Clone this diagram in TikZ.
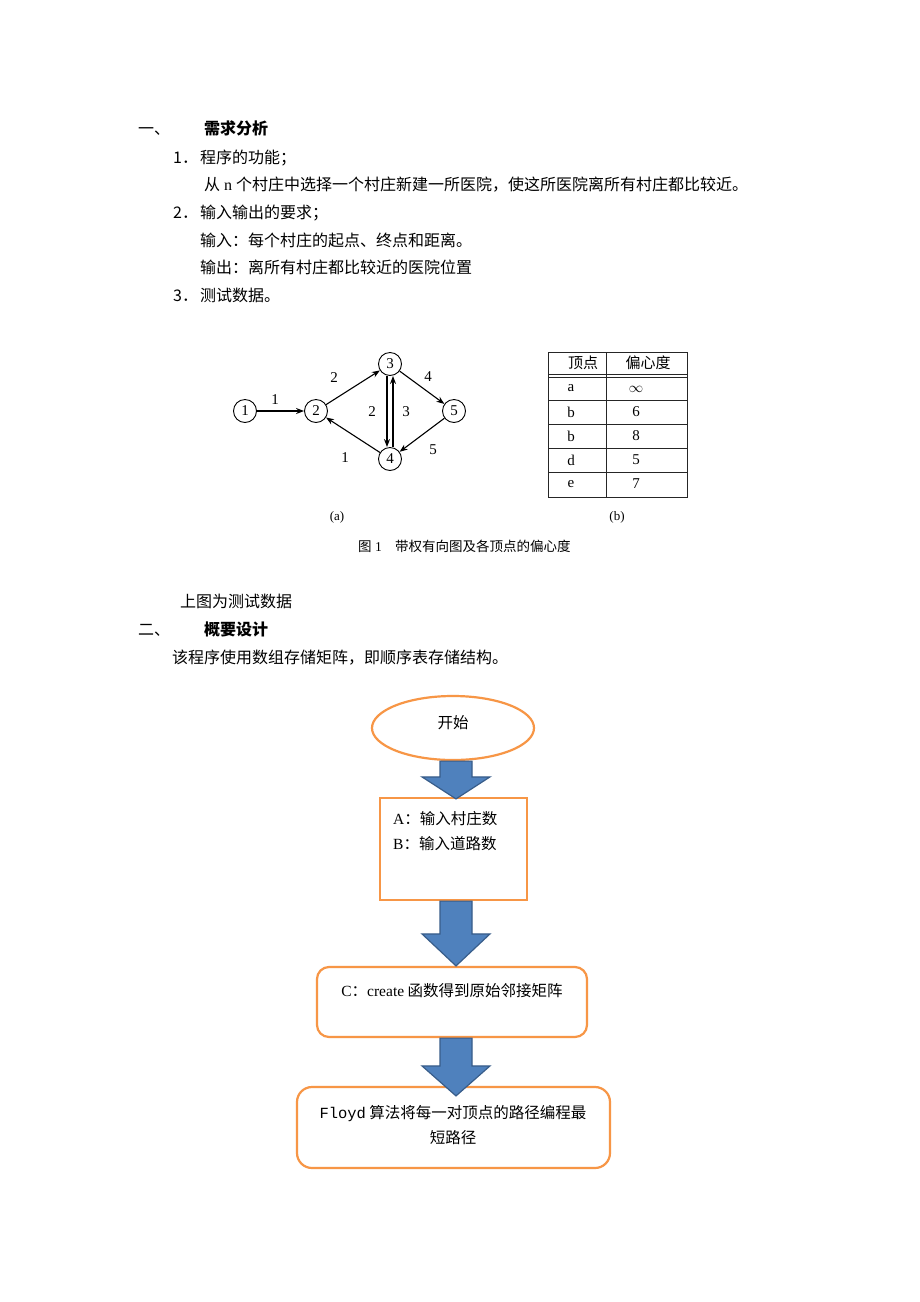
\documentclass[tikz,border=0pt]{standalone}
\usepackage{fontspec}
\setmainfont{Liberation Serif}
\newfontfamily\cjk{Noto Sans CJK SC}
\newfontfamily\monof{Liberation Mono}
\usetikzlibrary{arrows.meta,calc,shapes.geometric}
\definecolor{org}{HTML}{F79646}
\definecolor{bfill}{HTML}{4F81BD}
\definecolor{bdraw}{HTML}{385D8A}
\newcommand\blockarr[3]{\draw[barrow] let \p1=(#1), \p2=(#2) in
  (\x2-16pt,\y1) -- (\x2+16pt,\y1) -- (\x2+16pt,\y2+#3) -- (\x2+34pt,\y2+#3) -- (\x2,\y2) -- (\x2-34pt,\y2+#3) -- (\x2-16pt,\y2+#3) -- cycle;}
\begin{document}
\begin{tikzpicture}[x=1pt,y=-1pt,
  body/.style={anchor=base west, inner sep=0, font=\fontsize{16}{18}\selectfont\cjk},
  bodyb/.style={anchor=base west, inner sep=0, font=\fontsize{16}{18}\selectfont\cjk\bfseries},
  vx/.style={circle, draw, line width=0.9pt, minimum size=23pt, inner sep=0pt, font=\fontsize{15}{18}\selectfont},
  lbl/.style={inner sep=0pt, font=\fontsize{15}{18}\selectfont},
  edgearr/.style={-{Stealth[length=8pt,width=6pt]}, line width=1.1pt},
  tbl/.style={line width=1pt, draw=black!85},
  cell/.style={inner sep=0pt, font=\fontsize{15}{18}\selectfont},
  cellc/.style={inner sep=0pt, font=\fontsize{15}{18}\selectfont\cjk},
  captxt/.style={anchor=base west, inner sep=0pt, font=\fontsize{13.5}{16}\selectfont\cjk},
  flow/.style={draw=org, line width=2.2pt, fill=white, inner sep=0pt},
  barrow/.style={fill=bfill, draw=bdraw, line width=1.2pt, line join=miter},
  ftext/.style={inner sep=0pt, font=\fontsize{15.5}{18}\selectfont\cjk}]
\useasboundingbox[fill=white] (0,0) rectangle (920,1302);

% ---- section 1 text
\node[body] (h1a) at (138,134) {一、};
\node[bodyb] (h1b) at (204,134) {需求分析};
\node[body] (n1a) at (173,163) {1．};
\node[body] (n1b) at (200,163) {程序的功能；};
\node[body] (l1) at (204,190) {从{\rmfamily\ n\ }个村庄中选择一个村庄新建一所医院，使这所医院离所有村庄都比较近。};
\node[body] (n2a) at (173,218) {2．};
\node[body] (n2b) at (200,218) {输入输出的要求；};
\node[body] (l2) at (200,246) {输入：每个村庄的起点、终点和距离。};
\node[body] (l3) at (200,273) {输出：离所有村庄都比较近的医院位置};
\node[body] (n3a) at (173,301) {3．};
\node[body] (n3b) at (200,301) {测试数据。};

% ---- graph
\node[vx] (v1) at (245,411) {1};
\node[vx] (v2) at (316,411) {2};
\node[vx] (v3) at (390,364) {3};
\node[vx] (v4) at (390,459) {4};
\node[vx] (v5) at (454,411) {5};
\draw[edgearr] (v1) -- (v2);
\draw[edgearr] (v2) -- (v3);
\draw[edgearr] (v3) -- (v5);
\draw[edgearr] ([xshift=-3pt]v3.south) -- ([xshift=-3pt]v4.north);
\draw[edgearr] ([xshift=3pt]v4.north) -- ([xshift=3pt]v3.south);
\draw[edgearr] (v4) -- (v2);
\draw[edgearr] (v5) -- (v4);
\node[lbl] (e12) at (275,400) {1};
\node[lbl] (e23) at (334,378) {2};
\node[lbl] (e35) at (428,377) {4};
\node[lbl] (e34) at (372,412) {2};
\node[lbl] (e43) at (406,412) {3};
\node[lbl] (e42) at (345,458) {1};
\node[lbl] (e54) at (433,450) {5};

% ---- table
\draw[tbl] (548,352) rectangle (687,497);
\draw[tbl] (606,352) -- (606,497);
\draw[tbl] (548,374) -- (687,374);
\draw[tbl] (548,377) -- (687,377);
\foreach \yy in {400,424,448,472} \draw[tbl] (548,\yy) -- (687,\yy);
\node[cellc] (th1) at (583,363) {顶点};
\node[cellc] (th2) at (648,363) {偏心度};
\node[cell] (ta1) at (571,388) {a};
\node[cell] (ta2) at (636,389) {$\infty$};
\node[cell] (tb1) at (571,412) {b};
\node[cell] (tb2) at (636,412) {6};
\node[cell] (tc1) at (571,436) {b};
\node[cell] (tc2) at (636,436) {8};
\node[cell] (td1) at (571,460) {d};
\node[cell] (td2) at (636,460) {5};
\node[cell] (te1) at (571,484) {e};
\node[cell] (te2) at (636,484) {7};

\node[inner sep=0pt, font=\fontsize{13}{15}\selectfont] (capa) at (337,517) {(a)};
\node[inner sep=0pt, font=\fontsize{13}{15}\selectfont] (capb) at (617,517) {(b)};
\node[captxt] (cap1) at (358,551) {图{\rmfamily\ 1}};
\node[captxt] (cap2) at (395,551) {带权有向图及各顶点的偏心度};

% ---- section 2 text
\node[body] (p1) at (180,607) {上图为测试数据};
\node[body] (h2a) at (138,635) {二、};
\node[bodyb] (h2b) at (204,635) {概要设计};
\node[body] (p2) at (172,663) {该程序使用数组存储矩阵，即顺序表存储结构。};

% ---- flowchart
\node[flow, ellipse, minimum width=162pt, minimum height=64pt] (start) at (453,728) {};
\node[ftext] (tstart) at (453,723) {开始};
\node[flow, rectangle, minimum width=147pt, minimum height=102pt] (boxA) at (453.5,849) {};
\node[ftext, anchor=base west] (tA) at (393,824) {{\rmfamily A}：输入村庄数};
\node[ftext, anchor=base west] (tB) at (393,849) {{\rmfamily B}：输入道路数};
\node[flow, rectangle, rounded corners=12pt, minimum width=270pt, minimum height=70pt] (boxC) at (452,1002) {};
\node[ftext, anchor=base] (tC) at (452,996) {{\rmfamily C}：{\rmfamily create} 函数得到原始邻接矩阵};
\node[flow, rectangle, rounded corners=15pt, minimum width=313pt, minimum height=81pt] (boxD) at (453.5,1127.5) {};
\node[ftext, anchor=base] (tD1) at (453,1118) {{\monof Floyd} 算法将每一对顶点的路径编程最};
\node[ftext, anchor=base] (tD2) at (453,1143) {短路径};

\blockarr{start.south}{$(boxA.north)+(2.5,2)$}{22pt}
\blockarr{boxA.south}{$(boxA.south|-boxC.north)+(2.5,0)$}{32pt}
\blockarr{boxC.south}{$(boxC.south|-boxD.north)+(4,10)$}{30pt}
\end{tikzpicture}
\end{document}
